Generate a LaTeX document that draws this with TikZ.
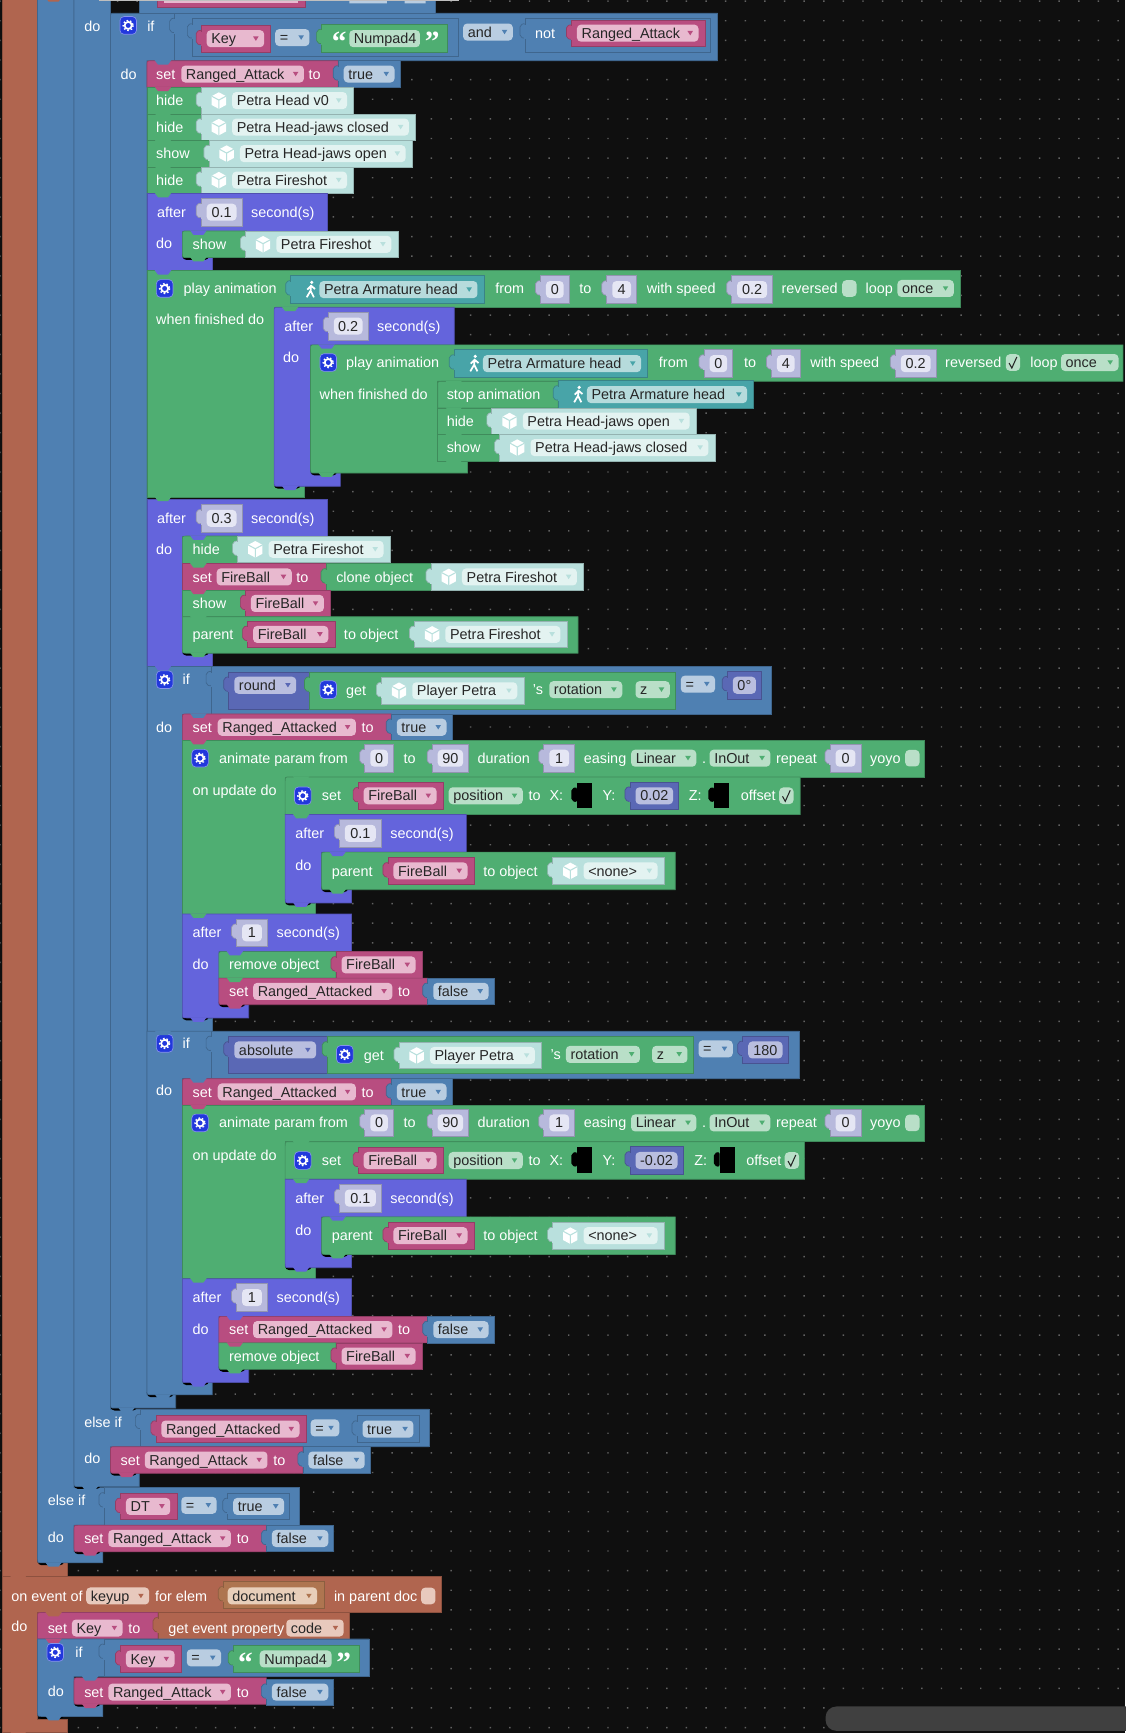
\documentclass[tikz,border=0pt]{standalone}
\usepackage{fontspec}
\setmainfont{Liberation Sans}
\newfontfamily\quotefont{Liberation Serif}

\definecolor{brn}{HTML}{B0654F}
\definecolor{brnfld}{HTML}{E8C9BD}
\definecolor{blu}{HTML}{4F80B2}
\definecolor{blufld}{HTML}{B9CDE1}
\definecolor{pur}{HTML}{6464DC}
\definecolor{grn}{HTML}{4FAE72}
\definecolor{grnfld}{HTML}{B9DFC8}
\definecolor{pnk}{HTML}{B84D80}
\definecolor{pnkfld}{HTML}{E8B9CF}
\definecolor{obj}{HTML}{B9E0DD}
\definecolor{objfld}{HTML}{E3F3F1}
\definecolor{ani}{HTML}{48A4A8}
\definecolor{anifld}{HTML}{B6DBDC}
\definecolor{lav}{HTML}{B7B9DC}
\definecolor{lavfld}{HTML}{E5E6F4}
\definecolor{ind}{HTML}{5A68B5}
\definecolor{indfld}{HTML}{B9BEDF}
\definecolor{tan}{HTML}{AE7550}
\definecolor{tanfld}{HTML}{E8CFBA}
\definecolor{gearblue}{HTML}{2238DC}

\pgfdeclarelayer{tabs}
\pgfsetlayers{main,tabs}

\tikzset{
  blk/.style={fill=#1, draw=#1!80!black, line width=0.5pt},
  lab/.style={text=white, inner sep=0pt, anchor=west, text height=7.2pt, text depth=2pt, yshift=-1.2pt, font=\fontsize{10.8}{13}\selectfont},
  fldtext/.style={text=black!85, inner sep=0pt, anchor=west, text height=7.2pt, text depth=2pt, yshift=-1.2pt, font=\fontsize{10.8}{13}\selectfont},
  fldbox/.style={rounded corners=3pt},
}

\def\rta{0}
\def\rba{0}
\newcommand{\nch}[3]{\begin{pgfonlayer}{tabs}\fill[#1] ({#2},{#3}) ++(7,-0.5) -- ++(3,4) -- ++(9,0) -- ++(3,-4) -- cycle;\end{pgfonlayer}}
\newcommand{\shd}[2]{\fill[black, rounded corners=3pt] ({#1},{(#2)-6}) rectangle ({(#1)+24},{(#2)+2.2});}
\newcommand{\blk}[5]{\draw[blk=#1] ({#2},{#3}) rectangle ({#4},{#5});}
\newcommand{\shp}[5]{\draw[blk=#1] ({#2+\rta},{#3}) -- ({#4},{#3}) -- ({#4},{#5}) -- ({#2+\rba},{#5}) .. controls ({#2},{#5}) .. ({#2},{#5-\rba}) -- ({#2},{#3+\rta}) .. controls ({#2},{#3}) .. cycle;
  \nch{#1}{#2}{#5}}
\newcommand{\stm}[5]{\shp{#1}{#2}{#3}{#4}{#5}}
\newcommand{\stmt}[5]{\def\rta{4}\shp{#1}{#2}{#3}{#4}{#5}\def\rta{0}}
\newcommand{\stmb}[5]{\shd{#2}{#5}\def\rba{4}\shp{#1}{#2}{#3}{#4}{#5}\def\rba{0}}
\newcommand{\stmo}[5]{\shd{#2}{#5}\def\rta{4}\def\rba{4}\shp{#1}{#2}{#3}{#4}{#5}\def\rta{0}\def\rba{0}}
% block with a mouth: top row, bar, foot
\newcommand{\cblk}[9]{\draw[blk=#1] ({#2+\rta},{#3}) -- ({#4},{#3}) -- ({#4},{#5}) -- ({#6},{#5}) -- ({#6},{#7}) -- ({#8},{#7}) -- ({#8},{#9}) -- ({#2+\rba},{#9}) .. controls ({#2},{#9}) .. ({#2},{#9-\rba}) -- ({#2},{#3+\rta}) .. controls ({#2},{#3}) .. cycle;
  \nch{#1}{#2}{#9}\nch{#1}{#6}{#5}}
\newcommand{\cblkb}[9]{\shd{#2}{#9}\def\rba{4}\cblk{#1}{#2}{#3}{#4}{#5}{#6}{#7}{#8}{#9}\def\rba{0}}
\newcommand{\cblko}[9]{\shd{#2}{#9}\def\rba{4}\def\rta{4}\cblk{#1}{#2}{#3}{#4}{#5}{#6}{#7}{#8}{#9}\def\rba{0}\def\rta{0}}
\newcommand{\valb}[5]{\draw[blk=#1, rounded corners=1.5pt] ({#2},{#3}) ++(0.5,4) -- ++(-5,1.5) -- ++(0,11) -- ++(5,1.5) -- cycle;
  \blk{#1}{#2}{#3}{#4}{#5}
  \fill[#1] ({#2},{#3}) ++(-0.5,5.5) rectangle ++(1.5,13);}
\newcommand{\lab}[3]{\node[lab] at ({#1},{#2}) {#3};}
\newcommand{\strf}[5]{\fill[#1fld, fldbox] ({#2},{(#4)-7.7}) rectangle ({#3},{(#4)+7.7});
  \node[fldtext] at ({(#2)+4},{#4}) {#5};}
\newcommand{\fld}[5]{\strf{#1}{#2}{#3}{#4}{#5}
  \fill[#1] ({(#3)-10},{(#4)-2}) -- ++(5,0) -- ++(-2.5,4) -- cycle;}
\newcommand{\numf}[4]{\fill[lavfld, fldbox] ({#1},{(#3)-7.7}) rectangle ({#2},{(#3)+7.7});
  \node[fldtext, anchor=center] at ({((#1)+(#2))/2},{#3}) {#4};}
\newcommand{\numv}[4]{\valb{lav}{#1}{(#3)-12.5}{#2}{(#3)+12.5}\numf{(#1)+5}{(#2)-5}{#3}{#4}}
\newcommand{\indv}[4]{\valb{ind}{#1}{(#3)-12.5}{#2}{(#3)+12.5}
  \fill[indfld, fldbox] ({(#1)+5},{(#3)-7.7}) rectangle ({(#2)-5},{(#3)+7.7});
  \node[fldtext, anchor=center] at ({((#1)+(#2))/2},{#3}) {#4};}
\newcommand{\pnkv}[4]{\valb{pnk}{#1}{(#3)-12}{#2}{(#3)+12}\fld{pnk}{(#1)+5}{(#2)-6}{#3}{#4}}
\newcommand{\bluv}[4]{\valb{blu}{#1}{(#3)-12}{#2}{(#3)+12}\fld{blu}{(#1)+5}{(#2)-5}{#3}{#4}}
\newcommand{\cube}[2]{\fill[white] ({#1},{(#2)-7.5}) -- ++(6.5,3.5) -- ++(0,8) -- ++(-6.5,3.5) -- ++(-6.5,-3.5) -- ++(0,-8) -- cycle;
  \draw[obj, line width=0.8pt] ({(#1)-6.5},{(#2)-4}) -- ({#1},{(#2)-0.5}) -- ({(#1)+6.5},{(#2)-4}) ({#1},{(#2)-0.5}) -- ({#1},{(#2)+7.5});}
\newcommand{\objv}[4]{\valb{obj}{#1}{(#3)-12}{#2}{(#3)+12}\cube{(#1)+16}{#3}\fld{obj}{(#1)+28}{(#2)-6}{#3}{#4}}
\newcommand{\runner}[2]{\fill[white] ({(#1)+1},{(#2)-6.5}) circle (1.6);
  \draw[white, line width=1.3pt] ({(#1)+0.5},{(#2)-4}) -- ({#1},{(#2)+1}) -- ({(#1)+3},{(#2)+7}) ({#1},{(#2)+1}) -- ({(#1)-3.5},{(#2)+7})
    ({(#1)-3},{#2}) -- ({(#1)+0.5},{(#2)-3.5}) -- ({(#1)+4},{(#2)-0.5});}
\newcommand{\aniv}[3]{\valb{ani}{#1}{(#3)-12.5}{#2}{(#3)+12.5}\runner{(#1)+18}{#3}\fld{ani}{(#1)+26}{(#2)-6}{#3}{Petra Armature head}}
\newcommand{\gear}[2]{\draw[gearblue!55!white, fill=gearblue, fldbox, line width=0.5pt] ({(#1)-7.5},{(#2)-8}) rectangle ({(#1)+7.5},{(#2)+8});
  \draw[white, line width=1.3pt] ({#1},{#2}) circle (3.2);
  \draw[white, line width=1pt, dash pattern=on 1.2pt off 1.5pt] ({#1},{#2}) circle (4.6);}
\newcommand{\boxc}[3]{\fill[#1, fldbox] ({#2},{(#3)-7.5}) rectangle ({(#2)+13},{(#3)+7.5});}
\newcommand{\chkd}[3]{\boxc{#1}{#2}{#3}
  \draw[black!85, line width=0.8pt] ({(#2)+3},{(#3)+0.5}) -- ({(#2)+5.5},{(#3)+5}) -- ({(#2)+10},{(#3)-5});}
\newcommand{\socket}[2]{\fill[black] ({#1},{(#2)-12}) rectangle ({(#1)+14},{(#2)+11});
  \fill[black, rounded corners=1.5pt] ({#1},{(#2)-8}) -- ++(-5,1.5) -- ++(0,11) -- ++(5,1.5) -- cycle;}
\newcommand{\lqt}[2]{\node[text=white, inner sep=0pt, font=\quotefont\bfseries\fontsize{22}{22}\selectfont] at ({#1},{#2}) {“};}
\newcommand{\rqt}[2]{\node[text=white, inner sep=0pt, font=\quotefont\bfseries\fontsize{22}{22}\selectfont] at ({#1},{#2}) {”};}

% the animate row comes twice
\newcommand{\animparam}[1]{
  \gear{181}{#1}
  \lab{198}{#1}{animate param from}
  \numv{330}{356}{#1}{0}
  \lab{365}{#1}{to}
  \numv{391}{424}{#1}{90}
  \lab{432}{#1}{duration}
  \numv{492}{520}{#1}{1}
  \lab{528}{#1}{easing}
  \fld{grn}{571}{630}{#1}{Linear}
  \lab{635}{#1}{.}
  \fld{grn}{642}{697}{#1}{InOut}
  \lab{702}{#1}{repeat}
  \numv{751}{779}{#1}{0}
  \lab{787}{#1}{yoyo}
  \boxc{grnfld}{819}{#1}
}
\newcommand{\afterrow}[4]{% x0, y, number, right end of number
  \lab{(#1)+9}{#2}{after}
  \numv{(#1)+49}{#4}{#2}{#3}
  \lab{(#4)+8}{#2}{second(s)}
}

\begin{document}
\begin{tikzpicture}[x=0.8288pt,y=-0.8288pt]
\useasboundingbox (0,0) rectangle (1018,1568);
\fill[black!94] (0,0) rectangle (1018,1568);
\fill[black!62] foreach \i in {0,...,57} {foreach \j in {0,...,88} {({\i*17.75-0.8},{\j*17.75+0.4}) rectangle ++(1.3,1.3)}};
\fill[black!75, rounded corners=8pt] (747,1544) rectangle (1030,1566);

% outer bars
\cblk{brn}{2}{-3}{34}{-2}{34}{1414}{61}{1426}
\shd{34}{1414}
\draw[blk=blu] (34,-2) -- (67,-2) -- (67,1346) -- (271,1346) -- (271,1380) -- (67,1380) -- (67,1404) -- (93,1404) -- (93,1414) -- (38,1414) .. controls (34,1414) .. (34,1410) -- cycle;
\nch{blu}{34}{1414}
\shd{67}{1345}
\draw[blk=blu] (67,-2) -- (100,-2) -- (100,1275) -- (388,1275) -- (388,1309) -- (100,1309) -- (100,1333) -- (126,1333) -- (126,1345) -- (71,1345) .. controls (67,1345) .. (67,1341) -- cycle;
\nch{blu}{67}{1345}
\cblko{blu}{100}{12}{649}{55}{133}{1262}{159}{1274}

% remains of the row above
\blk{blu}{126}{-2}{394}{12}
\blk{pnk}{142}{-2}{276}{7}
\fill[pnkfld] (148,-2) rectangle (270,3);
\fill[blufld] (316,-2) rectangle (350,3) (366,-2) rectangle (385,3);
\fill[black!25] (90,0) rectangle (415,1);

% first if
\lab{76}{24}{do}
\gear{116}{23}
\lab{133}{24}{if}
\valb{blu}{158}{12}{649}{55}
\valb{blu}{174}{17}{415}{51}
\pnkv{182}{245}{35}{Key}
\fld{blu}{249}{280}{34}{=}
\valb{grn}{291}{22}{405}{47}
\lqt{307}{38}
\strf{grn}{316}{380}{35}{Numpad4}
\rqt{391}{38}
\fld{blu}{419}{464}{29}{and}
\valb{blu}{475}{17}{643}{47}
\lab{484}{30}{not}
\pnkv{517}{638}{30}{Ranged\_Attack}

\lab{109}{67}{do}
\stmt{pnk}{133}{55}{306}{79}
\lab{141}{67}{set}
\fld{pnk}{164}{275}{67}{Ranged\_Attack}
\lab{279}{67}{to}
\bluv{306}{362}{67}{true}
\stm{grn}{133}{79}{182}{103}
\lab{141}{91}{hide}
\objv{182}{320}{91}{Petra Head v0}
\stm{grn}{133}{103}{182}{127}
\lab{141}{115}{hide}
\objv{182}{376}{115}{Petra Head-jaws closed}
\stm{grn}{133}{127}{189}{151}
\lab{141}{139}{show}
\objv{189}{373}{139}{Petra Head-jaws open}
\stm{grn}{133}{151}{182}{175}
\lab{141}{163}{hide}
\objv{182}{320}{163}{Petra Fireshot}

\cblk{pur}{133}{175}{296}{209}{165}{233}{192}{245}
\afterrow{133}{192}{0.1}{219}
\lab{141}{220}{do}
\stmo{grn}{165}{209}{223}{233}
\lab{174}{221}{show}
\objv{222}{360}{221}{Petra Fireshot}

% play animation, twice nested
\cblk{grn}{133}{245}{869}{278}{248}{440}{275}{450}
\gear{149}{261}
\lab{166}{261}{play animation}
\aniv{263}{438}{262}
\lab{448}{261}{from}
\numv{489}{515}{262}{0}
\lab{524}{261}{to}
\numv{549}{576}{262}{4}
\lab{585}{261}{with speed}
\numv{662}{699}{262}{0.2}
\lab{707}{261}{reversed}
\boxc{grnfld}{762}{261}
\lab{783}{261}{loop}
\fld{grn}{812}{863}{261}{once}
\lab{141}{289}{when finished do}

\cblko{pur}{248}{278}{411}{312}{281}{428}{308}{440}
\afterrow{248}{295}{0.2}{333}
\lab{256}{323}{do}
\cblko{grn}{281}{312}{1016}{345}{396}{417}{423}{428}
\gear{297}{328}
\lab{313}{328}{play animation}
\aniv{411}{586}{329}
\lab{596}{328}{from}
\numv{637}{663}{329}{0}
\lab{673}{328}{to}
\numv{698}{724}{329}{4}
\lab{733}{328}{with speed}
\numv{810}{847}{329}{0.2}
\lab{855}{328}{reversed}
\chkd{grnfld}{910}{328}
\lab{932}{328}{loop}
\fld{grn}{960}{1012}{328}{once}
\lab{289}{357}{when finished do}
\stmt{grn}{396}{345}{505}{369}
\lab{404}{357}{stop animation}
\aniv{505}{682}{357}
\stm{grn}{396}{369}{445}{393}
\lab{404}{381}{hide}
\objv{445}{630}{381}{Petra Head-jaws open}
\stm{grn}{396}{393}{452}{417}
\lab{404}{405}{show}
\objv{452}{647}{405}{Petra Head-jaws closed}

% second after
\cblk{pur}{133}{452}{296}{485}{165}{591}{192}{603}
\afterrow{133}{469}{0.3}{219}
\lab{141}{497}{do}
\stmt{grn}{165}{485}{215}{510}
\lab{174}{497}{hide}
\objv{215}{353}{497}{Petra Fireshot}
\stm{pnk}{165}{510}{295}{534}
\lab{174}{522}{set}
\fld{pnk}{196}{264}{522}{FireBall}
\lab{268}{522}{to}
\valb{grn}{295}{510}{390}{534}
\lab{304}{522}{clone object}
\objv{390}{528}{522}{Petra Fireshot}
\stm{grn}{165}{534}{222}{558}
\lab{174}{546}{show}
\pnkv{222}{299}{546}{FireBall}
\stmb{grn}{165}{558}{523}{591}
\lab{174}{574}{parent}
\pnkv{224}{303}{574}{FireBall}
\lab{311}{574}{to object}
\objv{375}{513}{574}{Petra Fireshot}

% if round
\cblk{blu}{133}{603}{698}{646}{165}{921}{192}{933}
\gear{149}{615}
\lab{165}{615}{if}
\valb{blu}{191}{603}{698}{646}
\valb{ind}{207}{608}{280}{642}
\fld{ind}{212}{268}{620}{round}
\valb{grn}{280}{608}{611}{642}
\gear{297}{624}
\lab{313}{625}{get}
\objv{345}{474}{625}{Player Petra}
\lab{482}{624}{'s}
\fld{grn}{497}{563}{624}{rotation}
\fld{grn}{575}{606}{624}{z}
\fld{blu}{616}{647}{619}{=}
\indv{658}{689}{620}{0°}

\lab{141}{658}{do}
\stmt{pnk}{165}{646}{354}{670}
\lab{174}{658}{set}
\fld{pnk}{197}{322}{658}{Ranged\_Attacked}
\lab{327}{658}{to}
\bluv{354}{409}{658}{true}
\cblk{grn}{165}{670}{836}{703}{258}{817}{285}{827}
\animparam{686}
\lab{174}{715}{on update do}
\stmt{grn}{258}{703}{724}{737}
\gear{274}{720}
\lab{291}{720}{set}
\pnkv{324}{401}{720}{FireBall}
\fld{grn}{406}{473}{720}{position}
\lab{478}{720}{to}
\lab{497}{720}{X:}
\socket{522}{720}
\lab{545}{720}{Y:}
\indv{570}{614}{720}{0.02}
\lab{623}{720}{Z:}
\socket{646}{720}
\lab{670}{720}{offset}
\chkd{grnfld}{705}{720}
\cblkb{pur}{258}{737}{422}{771}{291}{805}{318}{817}
\afterrow{258}{754}{0.1}{345}
\lab{267}{783}{do}
\stmo{grn}{291}{771}{611}{805}
\lab{300}{788}{parent}
\pnkv{351}{429}{788}{FireBall}
\lab{437}{788}{to object}
\objv{500}{601}{788}{<none>}

\cblkb{pur}{165}{827}{318}{861}{198}{909}{225}{921}
\afterrow{165}{844}{1}{242}
\lab{174}{873}{do}
\stmt{grn}{198}{861}{304}{885}
\lab{207}{873}{remove object}
\pnkv{304}{382}{873}{FireBall}
\stmb{pnk}{198}{885}{387}{909}
\lab{207}{897}{set}
\fld{pnk}{229}{355}{897}{Ranged\_Attacked}
\lab{360}{897}{to}
\bluv{387}{447}{897}{false}

% if absolute
\cblkb{blu}{133}{933}{723}{976}{165}{1250}{192}{1262}
\gear{149}{944}
\lab{165}{944}{if}
\valb{blu}{191}{933}{723}{976}
\valb{ind}{207}{938}{296}{971}
\fld{ind}{212}{286}{950}{absolute}
\valb{grn}{296}{938}{627}{971}
\gear{312}{954}
\lab{329}{955}{get}
\objv{361}{490}{955}{Player Petra}
\lab{498}{954}{'s}
\fld{grn}{512}{579}{954}{rotation}
\fld{grn}{590}{622}{954}{z}
\fld{blu}{632}{663}{949}{=}
\indv{672}{713}{950}{180}

\lab{141}{987}{do}
\stmt{pnk}{165}{976}{354}{1000}
\lab{174}{988}{set}
\fld{pnk}{197}{322}{988}{Ranged\_Attacked}
\lab{327}{988}{to}
\bluv{354}{409}{988}{true}
\cblk{grn}{165}{1000}{836}{1033}{258}{1147}{285}{1157}
\animparam{1016}
\lab{174}{1045}{on update do}
\stmt{grn}{258}{1033}{728}{1067}
\gear{274}{1050}
\lab{291}{1050}{set}
\pnkv{324}{401}{1050}{FireBall}
\fld{grn}{406}{473}{1050}{position}
\lab{478}{1050}{to}
\lab{497}{1050}{X:}
\socket{522}{1050}
\lab{545}{1050}{Y:}
\indv{570}{618}{1050}{-0.02}
\lab{628}{1050}{Z:}
\socket{651}{1050}
\lab{675}{1050}{offset}
\chkd{grnfld}{710}{1050}
\cblkb{pur}{258}{1067}{422}{1101}{291}{1135}{318}{1147}
\afterrow{258}{1084}{0.1}{345}
\lab{267}{1113}{do}
\stmo{grn}{291}{1101}{611}{1135}
\lab{300}{1118}{parent}
\pnkv{351}{429}{1118}{FireBall}
\lab{437}{1118}{to object}
\objv{500}{601}{1118}{<none>}

\cblkb{pur}{165}{1157}{318}{1191}{198}{1239}{225}{1251}
\afterrow{165}{1174}{1}{242}
\lab{174}{1203}{do}
\stmt{pnk}{198}{1191}{387}{1215}
\lab{207}{1203}{set}
\fld{pnk}{229}{355}{1203}{Ranged\_Attacked}
\lab{360}{1203}{to}
\bluv{387}{447}{1203}{false}
\stmb{grn}{198}{1215}{304}{1239}
\lab{207}{1227}{remove object}
\pnkv{304}{382}{1227}{FireBall}

% else if rows
\lab{76}{1287}{else if}
\valb{blu}{127}{1275}{388}{1309}
\pnkv{141}{277}{1293}{Ranged\_Attacked}
\fld{blu}{281}{307}{1292}{=}
\bluv{323}{379}{1293}{true}
\lab{76}{1320}{do}
\stmo{pnk}{100}{1309}{274}{1333}
\lab{109}{1321}{set}
\fld{pnk}{131}{242}{1321}{Ranged\_Attack}
\lab{247}{1321}{to}
\bluv{274}{335}{1321}{false}

\lab{43}{1358}{else if}
\valb{blu}{94}{1346}{271}{1380}
\pnkv{109}{160}{1363}{DT}
\fld{blu}{164}{196}{1362}{=}
\bluv{206}{262}{1363}{true}
\lab{43}{1391}{do}
\stmo{pnk}{67}{1380}{241}{1404}
\lab{76}{1392}{set}
\fld{pnk}{98}{209}{1392}{Ranged\_Attack}
\lab{214}{1392}{to}
\bluv{241}{302}{1392}{false}

% on event block
\cblk{brn}{2}{1426}{399}{1459}{34}{1556}{61}{1567}
\lab{10}{1444}{on event of}
\fld{brn}{78}{135}{1444}{keyup}
\lab{140}{1444}{for elem}
\valb{tan}{202}{1431}{293}{1455}
\fld{tan}{206}{287}{1444}{document}
\lab{302}{1444}{in parent doc}
\boxc{brnfld}{381}{1444}
\lab{10}{1472}{do}
\stmt{pnk}{34}{1459}{143}{1483}
\lab{43}{1473}{set}
\fld{pnk}{65}{111}{1473}{Key}
\lab{116}{1473}{to}
\valb{brn}{143}{1459}{316}{1483}
\lab{152}{1473}{get event property}
\fld{brn}{259}{311}{1473}{code}
\cblkb{blu}{34}{1483}{334}{1517}{67}{1542}{93}{1553}
\gear{50}{1495}
\lab{68}{1495}{if}
\valb{blu}{94}{1483}{334}{1517}
\pnkv{109}{164}{1501}{Key}
\fld{blu}{169}{200}{1500}{=}
\valb{grn}{211}{1489}{325}{1513}
\lqt{222}{1504}
\strf{grn}{235}{300}{1501}{Numpad4}
\rqt{311}{1504}
\lab{43}{1530}{do}
\stmo{pnk}{67}{1518}{241}{1542}
\lab{76}{1531}{set}
\fld{pnk}{98}{209}{1531}{Ranged\_Attack}
\lab{214}{1531}{to}
\bluv{241}{302}{1531}{false}
\end{tikzpicture}
\end{document}
